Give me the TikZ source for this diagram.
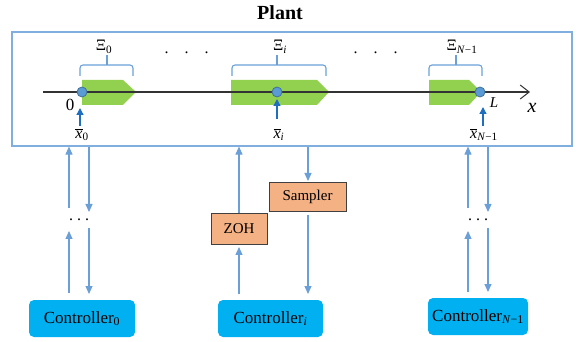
\documentclass[tikz,border=0pt]{standalone}
\usepackage{fontspec}
\setmainfont{Liberation Serif}
\usetikzlibrary{arrows.meta}
\definecolor{boxblue}{HTML}{7FAEDF}
\definecolor{arrblue}{HTML}{6A9FD8}
\definecolor{darkarr}{HTML}{1F6FC0}
\definecolor{ptblue}{HTML}{5B9BD5}
\definecolor{ptedge}{HTML}{41719C}
\definecolor{segreen}{HTML}{92D050}
\definecolor{ctrlcyan}{HTML}{00B0F0}
\definecolor{procorange}{HTML}{F4B183}
\begin{document}
\begin{tikzpicture}[x=1pt,y=-1pt,
  conn/.style={draw=arrblue, line width=1.1pt, -{Triangle[width=7pt,length=8pt]}},
  smallarr/.style={draw=darkarr, line width=1.3pt, -{Triangle[width=7pt,length=7pt]}},
  ctrlbox/.style={fill=ctrlcyan, rounded corners=5pt, minimum height=37pt, inner sep=0pt, font=\fontsize{17}{17}\selectfont},
  procbox/.style={draw=black!75, fill=procorange, line width=0.9pt, inner sep=0pt, font=\fontsize{15}{15}\selectfont},
  pt/.style={circle, fill=ptblue, draw=ptedge, line width=0.8pt, minimum size=10pt, inner sep=0pt},
  brc/.style={draw=arrblue, line width=1.1pt, rounded corners=3pt},
  lbl/.style={inner sep=0pt, font=\fontsize{16}{16}\selectfont},
  seg/.style={fill=segreen, draw=none}
]
\useasboundingbox (0,0) rectangle (579,342);

% title and plant box
\node[font=\bfseries\fontsize{20}{20}\selectfont, inner sep=0pt] (title) at (280,13) {Plant};
\node[draw=boxblue, line width=1.2pt, minimum width=560pt, minimum height=114pt, inner sep=0pt] (plant) at (292,89) {};

% green segments
\path[seg] (82,80) -- (123,80) -- (136,92) -- (123,105) -- (82,105) -- cycle;
\path[seg] (231,80) -- (317,80) -- (329,92) -- (317,105) -- (231,105) -- cycle;
\path[seg] (429,80) -- (469,80) -- (481,92) -- (469,105) -- (429,105) -- cycle;

% axis
\coordinate (ax0) at (43,92);
\coordinate (ax1) at (530,92);
\draw[black!80, line width=1.1pt, -{Straight Barb[length=9pt,width=14pt,line width=1pt]}] (ax0) -- (ax1);

% points
\node[pt] (p0) at (82,92) {};
\node[pt] (pi) at (277,92) {};
\node[pt] (pN) at (480,92) {};

% braces
\draw[brc] (80,76) -- (80,65) -- (133,65) -- (133,76);
\draw[brc] (107,65) -- (107,55);
\draw[brc] (232,76) -- (232,65) -- (326,65) -- (326,76);
\draw[brc] (277,65) -- (277,55);
\draw[brc] (429,76) -- (429,65) -- (482,65) -- (482,76);
\draw[brc] (456,65) -- (456,55);

% brace labels
\node[lbl] (xi0) at (104,47) {Ξ\textsubscript{0}};
\node[lbl] (xii) at (280,47) {Ξ\textsubscript{\textit{i}}};
\node[lbl] (xiN) at (462,47) {Ξ\textsubscript{\textit{N}−1}};

% dots in plant
\node[lbl, anchor=base] (d1) at (186.5,54) {.\hspace{16pt}.\hspace{16pt}.};
\node[lbl, anchor=base] (d2) at (375.5,54) {.\hspace{16pt}.\hspace{16pt}.};

% axis labels
\node[inner sep=0pt, font=\fontsize{17}{17}\selectfont] (zero) at (70,105) {0};
\node[inner sep=0pt, font=\itshape\fontsize{15}{15}\selectfont] (Lab) at (494,103) {L};
\node[inner sep=0pt, font=\itshape\fontsize{20}{20}\selectfont] (xlab) at (532,108) {x};

% xbar labels
\node[lbl] (xb0) at (82,135) {$\overline{\mbox{\textit{x}}}$\textsubscript{0}};
\node[lbl] (xbi) at (279,135) {$\overline{\mbox{\textit{x}}}$\textsubscript{\textit{i}}};
\node[lbl] (xbN) at (484,135) {$\overline{\mbox{\textit{x}}}$\textsubscript{\textit{N}−1}};
\coordinate (a0s) at (80,126); \coordinate (a0e) at (80,108);
\coordinate (ais) at (277,119); \coordinate (aie) at (277,99);
\coordinate (aNs) at (483,126); \coordinate (aNe) at (483,107);
\draw[smallarr] (a0s) -- (a0e);
\draw[smallarr] (ais) -- (aie);
\draw[smallarr] (aNs) -- (aNe);

% controllers and blocks
\node[ctrlbox, minimum width=106pt] (c0) at (82,318.5) {Controller\textsubscript{0}};
\node[ctrlbox, minimum width=105pt] (ci) at (270.5,318.5) {Controller\textsubscript{\textit{i}}};
\node[ctrlbox, minimum width=100pt] (cN) at (478,316.5) {Controller\textsubscript{\textit{N}−1}};
\node[procbox, minimum width=56pt, minimum height=31pt] (zoh) at (239,228.5) {ZOH};
\node[procbox, minimum width=77pt, minimum height=29pt] (samp) at (307.5,196.5) {Sampler};

% bottom dots
\node[lbl, anchor=base] (bd0) at (79,221) {.\hspace{4pt}.\hspace{4pt}.};
\node[lbl, anchor=base] (bdN) at (478,221) {.\hspace{4pt}.\hspace{4pt}.};

% left connectors
\coordinate (l1) at (69,208); \coordinate (l2) at (89,212);
\coordinate (l3) at (69,293); \coordinate (l4) at (69,231);
\coordinate (l5) at (89,228); \coordinate (l6) at (89,294);
\draw[conn] (l1) -- (l1 |- plant.south);
\draw[conn] (l2 |- plant.south) -- (l2);
\draw[conn] (l3) -- (l4);
\draw[conn] (l5) -- (l6);

% right connectors
\coordinate (r1) at (468,208); \coordinate (r2) at (488,212);
\coordinate (r3) at (468,292); \coordinate (r4) at (468,231);
\coordinate (r5) at (488,228); \coordinate (r6) at (488,292);
\draw[conn] (r1) -- (r1 |- plant.south);
\draw[conn] (r2 |- plant.south) -- (r2);
\draw[conn] (r3) -- (r4);
\draw[conn] (r5) -- (r6);

% middle connectors
\coordinate (m1) at (239,294); \coordinate (m2) at (239,247);
\coordinate (m3) at (308,215); \coordinate (m4) at (308,294);
\coordinate (s1) at (308,147); \coordinate (s2) at (308,181);
\draw[conn] (zoh.north) -- (zoh.north |- plant.south);
\draw[conn] (m1) -- (m2);
\draw[conn] (s1) -- (s2);
\draw[conn] (m3) -- (m4);
\end{tikzpicture}
\end{document}
